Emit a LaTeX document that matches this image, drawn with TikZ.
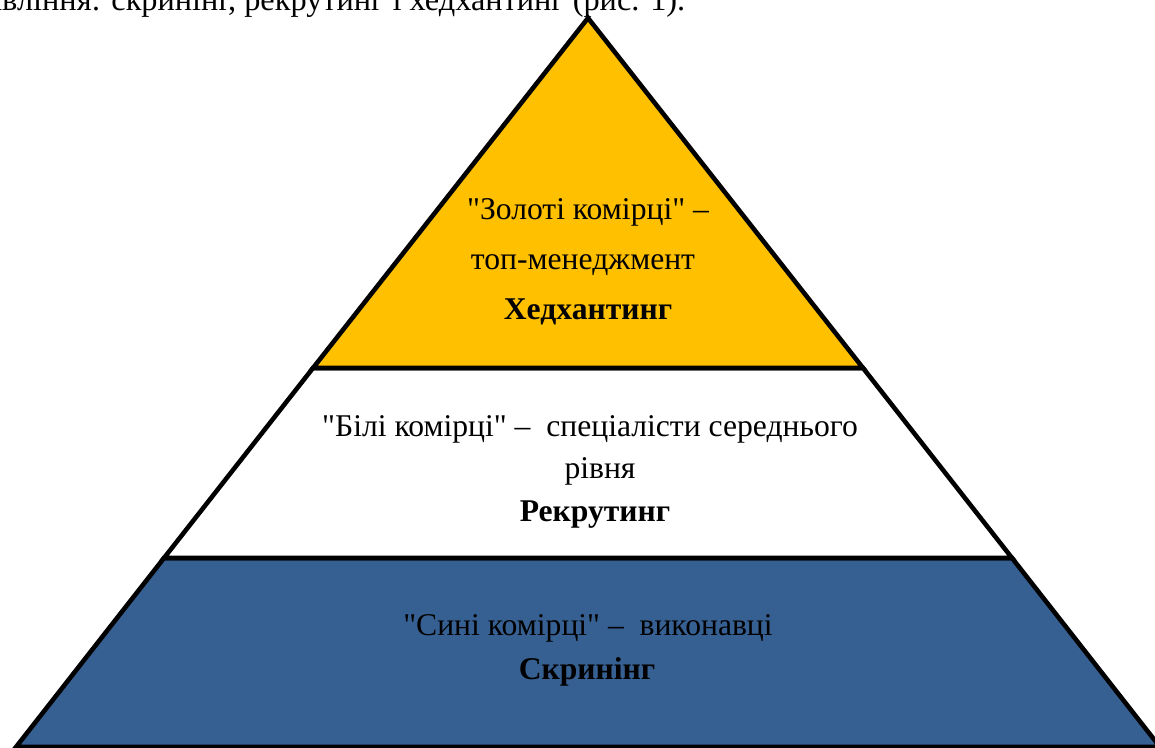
\documentclass[tikz,border=0pt]{standalone}
\usepackage{fontspec}
\setmainfont{Liberation Serif}[Ligatures=TeXOff]
\usetikzlibrary{positioning,calc}

\definecolor{zoloto}{RGB}{255,192,0}
\definecolor{synii}{RGB}{55,96,146}

\begin{document}
\begin{tikzpicture}[
  font=\fontsize{9}{11}\selectfont,
  riven/.style={draw=black, line width=1.3pt, line join=miter},
  tekst/.style={inner sep=0pt, anchor=center},
  nazva/.style={inner sep=0pt, anchor=center, font=\fontsize{9}{11}\selectfont\bfseries}
]
\useasboundingbox (0,0) rectangle (11.55,7.47);
\clip (0,0) rectangle (11.55,7.47);

%% ===== verkhnii riadok tekstu =====
\node[inner sep=0pt, anchor=base east, font=\fontsize{9.2}{11}\selectfont] (riadok) at (6.86,7.36)
  {авління: скринінг, рекрутинг і хедхантинг (рис. 1).};

%% ===== tochky piramidy =====
\coordinate (vershyna) at (5.88,7.29);
\coordinate (gl) at (3.13,3.79);
\coordinate (gr) at (8.63,3.79);
\coordinate (wl) at (1.64,1.89);
\coordinate (wr) at (10.12,1.89);
\coordinate (bl) at (0.16,0);
\coordinate (br) at (11.60,0);

%% ===== rivni =====
\draw[riven, fill=synii] (wl) -- (wr) -- (br) -- (bl) -- cycle;
\draw[riven, fill=white] (gl) -- (gr) -- (wr) -- (wl) -- cycle;
\draw[riven, fill=zoloto] (vershyna) -- (gr) -- (gl) -- cycle;

%% ===== (1) zoloti komirtsi =====
\node[tekst] (z1) at (5.88,5.35) {"Золоті комірці" –};
\node[tekst] (z2) at (5.83,4.82) {топ-менеджмент};
\node[nazva] (z3) at (5.88,4.35) {Хедхантинг};

%% ===== (2) bili komirtsi =====
\node[tekst] (b1) at (5.90,3.18) {"Білі комірці" –\ \ спеціалісти середнього};
\node[tekst] (b2) at (6.00,2.76) {рівня};
\node[nazva] (b3) at (5.95,2.32) {Рекрутинг};

%% ===== (3) syni komirtsi =====
\node[tekst] (s1) at (5.88,1.19) {"Сині комірці" –\ \ виконавці};
\node[nazva] (s2) at (5.87,0.75) {Скринінг};
\end{tikzpicture}
\end{document}
